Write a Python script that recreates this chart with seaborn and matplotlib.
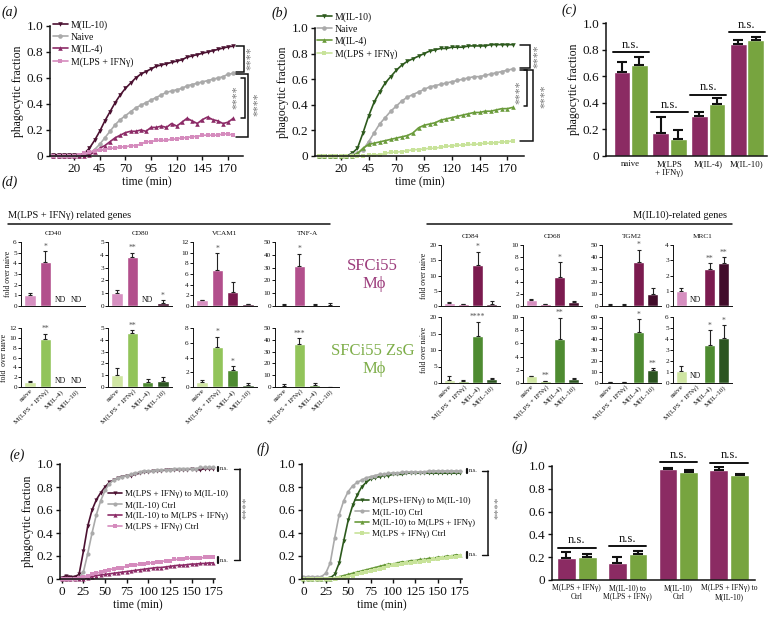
import numpy as np
import pandas as pd
import matplotlib
matplotlib.use("Agg")
import matplotlib.pyplot as plt
from matplotlib.lines import Line2D
import seaborn as sns

sns.set_theme(style="ticks")
plt.rcParams["font.family"] = ["Liberation Serif", "DejaVu Serif"]
for k in ("text.color", "axes.edgecolor", "xtick.color", "ytick.color", "axes.labelcolor"):
    plt.rcParams[k] = "#111111"

W, H = 768, 619
nan = np.nan

# ── data: time courses ───────────────────────────────────────
time_min = [0, 5, 10, 15, 20, 25, 30, 35, 40, 45, 50, 55, 60, 65, 70, 75, 80, 85,
            90, 95, 100, 105, 110, 115, 120, 125, 130, 135, 140, 145, 150, 155,
            160, 165, 170, 175]

ab_names = ["M(IL-10)", "Naive", "M(IL-4)", "M(LPS + IFNγ)"]
a_il10 = [0.01, 0.01, 0.01, 0.01, 0.01, 0.01, 0.02, 0.06, 0.12, 0.19, 0.27, 0.34, 0.41, 0.47, 0.52, 0.56, 0.60, 0.63,
          0.65, 0.67, 0.69, 0.70, 0.71, 0.72, 0.73, 0.74, 0.76, 0.77, 0.78, 0.79, 0.80, 0.81, 0.82, 0.83, 0.84, 0.845]
a_naive = [0, 0, 0, 0, 0, 0, 0.01, 0.02, 0.05, 0.09, 0.14, 0.19, 0.24, 0.28, 0.31, 0.34, 0.37, 0.39,
           0.41, 0.43, 0.45, 0.47, 0.49, 0.50, 0.51, 0.52, 0.54, 0.55, 0.56, 0.57, 0.58, 0.59, 0.60, 0.61, 0.63, 0.635]
a_il4 = [0, 0, 0, 0, 0, 0, 0, 0.01, 0.03, 0.06, 0.08, 0.11, 0.14, 0.16, 0.18, 0.19, 0.19, 0.20,
         0.19, 0.22, 0.22, 0.23, 0.22, 0.25, 0.23, 0.26, 0.29, 0.27, 0.25, 0.28, 0.30, 0.28, 0.27, 0.25, 0.26, 0.29]
a_lps = [0, 0, 0, 0, 0, 0.01, 0.02, 0.03, 0.04, 0.05, 0.05, 0.06, 0.06, 0.07, 0.07, 0.08, 0.08, 0.09,
         0.11, 0.11, 0.12, 0.12, 0.12, 0.13, 0.13, 0.14, 0.14, 0.15, 0.15, 0.16, 0.16, 0.16, 0.16, 0.17, 0.17, 0.16]

b_il10 = [0, 0, 0, 0, 0, 0, 0.02, 0.06, 0.18, 0.31, 0.42, 0.50, 0.57, 0.62, 0.67, 0.71, 0.74, 0.76,
          0.78, 0.80, 0.82, 0.83, 0.84, 0.84, 0.85, 0.85, 0.85, 0.86, 0.86, 0.86, 0.86, 0.87, 0.87, 0.87, 0.87, 0.87]
b_naive = [0, 0, 0, 0, 0, 0, 0.01, 0.02, 0.05, 0.11, 0.18, 0.25, 0.30, 0.35, 0.39, 0.43, 0.46, 0.48,
           0.50, 0.52, 0.54, 0.55, 0.56, 0.57, 0.58, 0.59, 0.60, 0.61, 0.62, 0.62, 0.63, 0.64, 0.65, 0.66, 0.67, 0.68]
b_il4 = [0, 0, 0, 0, 0, 0, 0, 0.02, 0.06, 0.09, 0.10, 0.11, 0.12, 0.13, 0.14, 0.15, 0.16, 0.18,
         0.22, 0.24, 0.25, 0.26, 0.28, 0.29, 0.30, 0.31, 0.32, 0.33, 0.34, 0.34, 0.35, 0.35, 0.36, 0.37, 0.37, 0.38]
b_lps = [0, 0, 0, 0, 0, 0, 0, 0, 0, 0.005, 0.01, 0.01, 0.02, 0.03, 0.03, 0.035, 0.04, 0.05,
         0.05, 0.055, 0.06, 0.06, 0.07, 0.075, 0.08, 0.085, 0.085, 0.09, 0.09, 0.095, 0.10, 0.10, 0.105, 0.11, 0.11, 0.12]

e_names = ["M(LPS + IFNγ) to M(IL-10)", "M(IL-10) Ctrl", "M(IL-10) to M(LPS + IFNγ)", "M(LPS + IFNγ) Ctrl"]
f_names = ["M(LPS+IFNγ) to M(IL-10)", "M(IL-10) Ctrl", "M(IL-10) to M(LPS + IFNγ)", "M(LPS + IFNγ) Ctrl"]
e_lps2il10 = [0.01, 0.03, 0.02, 0.02, 0.04, 0.24, 0.46, 0.60, 0.69, 0.75, 0.80, 0.84, 0.86, 0.88, 0.89, 0.90, 0.90, 0.91,
              0.92, 0.93, 0.93, 0.94, 0.94, 0.94, 0.95, 0.95, 0.95, 0.95, 0.95, 0.95, 0.96, 0.95, 0.95, 0.96, 0.96, 0.96]
e_il10ctrl = [0, 0, 0, 0, 0.01, 0.06, 0.22, 0.40, 0.56, 0.68, 0.77, 0.83, 0.86, 0.88, 0.89, 0.90, 0.91, 0.92,
              0.93, 0.94, 0.94, 0.94, 0.95, 0.95, 0.95, 0.95, 0.96, 0.96, 0.96, 0.96, 0.96, 0.96, 0.97, 0.97, 0.97, 0.97]
e_il102lps = [0, 0, 0, 0, 0, 0, 0.01, 0.02, 0.03, 0.035, 0.04, 0.045, 0.05, 0.055, 0.06, 0.065, 0.07, 0.075,
              0.08, 0.085, 0.09, 0.095, 0.10, 0.10, 0.105, 0.11, 0.115, 0.12, 0.12, 0.125, 0.13, 0.13, 0.135, 0.135, 0.14, 0.14]
e_lpsctrl = [0, 0, 0, 0, 0.01, 0.02, 0.03, 0.04, 0.05, 0.06, 0.07, 0.08, 0.09, 0.10, 0.10, 0.11, 0.12, 0.12,
             0.13, 0.13, 0.14, 0.14, 0.15, 0.15, 0.16, 0.16, 0.17, 0.17, 0.17, 0.18, 0.18, 0.18, 0.18, 0.19, 0.19, 0.19]

f_lps2il10 = [0, 0, 0, 0, 0, 0, 0.01, 0.04, 0.14, 0.33, 0.51, 0.64, 0.73, 0.80, 0.84, 0.87, 0.88, 0.89,
              0.90, 0.90, 0.91, 0.91, 0.91, 0.92, 0.92, 0.92, 0.92, 0.92, 0.92, 0.92, 0.92, 0.92, 0.92, 0.92, 0.92, 0.92]
f_il10ctrl = [0.02, 0.02, 0.02, 0.02, 0.02, 0.05, 0.14, 0.36, 0.56, 0.68, 0.76, 0.81, 0.84, 0.86, 0.88, 0.89, 0.90, 0.91,
              0.91, 0.92, 0.92, 0.92, 0.93, 0.93, 0.93, 0.93, 0.93, 0.93, 0.94, 0.94, 0.94, 0.94, 0.94, 0.94, 0.94, 0.94]
f_il102lps = [0, 0, 0, 0, 0, 0, 0, 0.01, 0.02, 0.03, 0.04, 0.05, 0.06, 0.07, 0.08, 0.09, 0.10, 0.11,
              0.12, 0.13, 0.13, 0.14, 0.15, 0.15, 0.16, 0.16, 0.17, 0.17, 0.18, 0.18, 0.19, 0.19, 0.20, 0.20, 0.21, 0.21]
f_lpsctrl = [0, 0, 0, 0, 0, 0, 0, 0, 0.01, 0.01, 0.02, 0.03, 0.04, 0.05, 0.06, 0.07, 0.08, 0.09,
             0.10, 0.11, 0.12, 0.12, 0.13, 0.14, 0.14, 0.15, 0.15, 0.16, 0.16, 0.17, 0.17, 0.18, 0.18, 0.19, 0.19, 0.20]

# ── data: bar panels (c) and (g) ─────────────────────────────
c_groups = ["naive", "M(LPS\n+ IFNγ)", "M(IL-4)", "M(IL-10)"]
c_mag = [0.63, 0.17, 0.30, 0.845]
c_mag_err = [0.08, 0.125, 0.033, 0.03]
c_grn = [0.685, 0.125, 0.39, 0.87]
c_grn_err = [0.06, 0.07, 0.044, 0.025]
c_ns_y = [0.78, 0.33, 0.46, 0.93]

g_groups = ["M(LPS + IFNγ)\nCtrl", "M(IL-10) to\nM(LPS + IFNγ)", "M(IL-10)\nCtrl", "M(LPS + IFNγ) to\nM(IL-10)"]
g_mag = [0.19, 0.152, 0.974, 0.962]
g_mag_err = [0.053, 0.047, 0.011, 0.032]
g_grn = [0.20, 0.228, 0.95, 0.921]
g_grn_err = [0.028, 0.029, 0.018, 0.011]
g_ns_y = [0.283, 0.298, 1.032, 1.03]

# ── data: gene expression panels (d) ─────────────────────────
conds = ["naive", "M(LPS + IFNγ)", "M(IL-4)", "M(IL-10)"]
m1_genes = ["CD40", "CD80", "VCAM1", "TNF-A"]
m1_mag_val = [[1.05, 4.1, nan, nan], [1.05, 3.8, nan, 0.2], [1.05, 6.8, 2.7, 0.3], [0.6, 31.5, 0.9, 1.1]]
m1_mag_err = [[0.15, 1.05, 0, 0], [0.2, 0.35, 0, 0.25], [0.15, 3.1, 1.8, 0.15], [0.9, 9.5, 1.0, 0.9]]
m1_mag_sig = [["", "*", "", ""], ["", "**", "", "*"], ["", "*", "", ""], ["", "*", "", ""]]
m1_grn_val = [[1.05, 9.7, nan, nan], [1.0, 4.6, 0.4, 0.5], [0.65, 5.4, 2.35, 0.25], [0.8, 36.5, 1.5, 0.3]]
m1_grn_err = [[0.2, 1.1, 0, 0], [0.65, 0.2, 0.3, 0.35], [0.35, 1.4, 0.5, 0.25], [1.7, 5.0, 2.0, 0.1]]
m1_grn_sig = [["", "**", "", ""], ["", "**", "", ""], ["", "*", "*", ""], ["", "***", "", ""]]
m1_mag_ymax = [6, 5, 12, 50]
m1_mag_step = [1, 1, 2, 10]
m1_grn_ymax = [12, 5, 8, 50]
m1_grn_step = [2, 1, 2, 10]

m2_genes = ["CD84", "CD68", "TGM2", "MRC1"]
m2_mag_val = [[0.9, 0.6, 13.5, 0.8], [1.0, 0.25, 4.7, 0.6], [0.8, 0.8, 36, 10], [1.0, nan, 2.4, 2.8]]
m2_mag_err = [[0.3, 0.2, 4.3, 0.7], [0.1, 0.1, 2.5, 0.15], [0.5, 0.5, 10, 4.5], [0.15, 0, 0.4, 0.4]]
m2_mag_sig = [["", "", "*", ""], ["", "", "*", ""], ["", "", "*", ""], ["", "", "**", "**"]]
m2_grn_val = [[1.0, 0.7, 14.2, 1.1], [1.0, 0.25, 6.7, 0.6], [0.8, 0.8, 46, 12], [1.05, nan, 3.5, 4.05]]
m2_grn_err = [[1.2, 0.2, 4.4, 0.5], [0.1, 0.1, 3.2, 0.1], [0.4, 0.4, 12, 1.5], [0.5, 0, 1.3, 1.2]]
m2_grn_sig = [["", "", "****", ""], ["", "**", "**", ""], ["", "", "*", "**"], ["", "", "*", "*"]]
m2_mag_ymax = [20, 10, 50, 4]
m2_mag_step = [5, 2, 10, 1]
m2_grn_ymax = [20, 10, 60, 6]
m2_grn_step = [5, 2, 10, 1]

# ── colours ──────────────────────────────────────────────────
MAG_BAR, GRN_BAR = "#8b2b63", "#77a43f"
GRAY = "#aaaaaa"
mag_lines = ["#4b1131", GRAY, "#8c2b67", "#d58bbd"]
grn_lines = ["#2d5a1d", GRAY, "#6a9b3b", "#c8e39a"]
mag_cond = ["#d68fc0", "#b24f8c", "#7b1b4f", "#420d2b"]
grn_cond = ["#cfe5a2", "#92c45a", "#4e8b31", "#2c5521"]
MARKERS = ["v", "o", "^", "s"]
frac_ticks = [0, 0.2, 0.4, 0.6, 0.8, 1.0]
frac_labels = ["0", "0.2", "0.4", "0.6", "0.8", "1.0"]

fig = plt.figure(figsize=(W / 100, H / 100), dpi=100)


def px_axes(l, t, r, b):
    return fig.add_axes([l / W, 1 - b / H, (r - l) / W, (b - t) / H])


def ftext(x, y, s, **kw):
    fig.text(x / W, 1 - y / H, s, **kw)


def curves(ax, series, names, colors, msize=3.3):
    df = pd.DataFrame({"time": time_min * len(series),
                       "frac": sum(series, []),
                       "group": np.repeat(names, len(time_min))})
    sns.lineplot(data=df, x="time", y="frac", hue="group", style="group",
                 hue_order=names, style_order=names, palette=colors,
                 markers=MARKERS, dashes=False, markersize=msize, markeredgewidth=0,
                 linewidth=1.2, errorbar=None, legend=False, ax=ax, clip_on=False)
    return ax.get_lines()[:len(names)]


def style_frac_ax(ax, xlim=None, xticks=None):
    if xlim is not None:
        ax.set_xlim(*xlim)
    if xticks is not None:
        ax.set_xticks(xticks)
    ax.set_ylim(0, 1.0)
    ax.set_yticks(frac_ticks)
    ax.set_yticklabels(frac_labels)
    ax.tick_params(labelsize=9.5, length=3, width=1.0, pad=2)
    sns.despine(ax=ax)
    for s in ("left", "bottom"):
        ax.spines[s].set_linewidth(1.1)


def legend(ax, handles, names, x, y, size):
    ax.legend(handles, names, loc="upper left", bbox_to_anchor=(x / W, 1 - y / H),
              bbox_transform=fig.transFigure, frameon=False, fontsize=size,
              handlelength=1.5, handletextpad=0.35, labelspacing=0.3,
              borderpad=0, borderaxespad=0)


def bracket(ax, x0, x1, y0, y1, lw=1.1):
    ax.plot([x0, x1, x1, x0], [y0, y0, y1, y1], color="#111111", lw=lw,
            clip_on=False, solid_joinstyle="miter")


def vstars(ax, x, y, s="****", size=8.5):
    ax.text(x, y, s, rotation=90, ha="center", va="center", fontsize=size,
            color="#777777", clip_on=False)


def ns_side(ax, xv, xt, xl, xr, y, dy):
    ax.plot([xv, xv], [y - dy, y + dy], color="#111111", lw=1.6, clip_on=False)
    ax.text(xt, y, "n.s.", fontsize=4.5, va="center", ha="left", clip_on=False)
    ax.plot([xl, xr], [y, y], color="#111111", lw=1.0, clip_on=False)


def paired_bars(ax, groups, mag, mag_err, grn, grn_err, width, gap, capsize, ns_y, ns_hw):
    df = pd.DataFrame({"group": groups * 2, "value": mag + grn,
                       "cell": ["SFCi55"] * len(groups) + ["SFCi55 ZsG"] * len(groups)})
    sns.barplot(data=df, x="group", y="value", hue="cell", palette=[MAG_BAR, GRN_BAR],
                width=width, gap=gap, errorbar=None, legend=False, saturation=1, ax=ax)
    conts = list(ax.containers[:2])
    for cont, errs in zip(conts, (mag_err, grn_err)):
        for bar, e in zip(cont, errs):
            xc = bar.get_x() + bar.get_width() / 2
            ax.errorbar(xc, bar.get_height(), yerr=[[0], [e]], fmt="none", ecolor="#111111",
                        elinewidth=1.5, capsize=capsize, capthick=1.5)
    for i, y in enumerate(ns_y):
        ax.plot([i - ns_hw, i + ns_hw], [y, y], color="#111111", lw=1.4, clip_on=False)
        ax.text(i, y + 0.012, "n.s.", ha="center", va="bottom", fontsize=9, clip_on=False)
    ax.set_xlabel("")


def gene_panel(ax, vals, errs, sigs, colors, ymax, step, title=None, ylabel=None, xlabels=False):
    df = pd.DataFrame({"cond": conds, "val": vals}).dropna()
    sns.barplot(data=df, x="cond", y="val", hue="cond", order=conds, hue_order=conds,
                palette=dict(zip(conds, colors)), width=0.75, errorbar=None,
                legend=False, saturation=1, ax=ax)
    for i, (v, e, s) in enumerate(zip(vals, errs, sigs)):
        if np.isnan(v):
            ax.text(i, 0.1 * ymax, "ND", ha="center", va="center", fontsize=5.5)
            continue
        ax.errorbar(i, v, yerr=[[0], [e]], fmt="none", ecolor="#222222",
                    elinewidth=0.8, capsize=1.6, capthick=0.8)
        if s:
            ax.text(i, v + e + 0.01 * ymax, s, ha="center", va="bottom", fontsize=5.5,
                    color="#555555", clip_on=False)
    ax.set_xlim(-0.6, 3.6)
    ax.set_ylim(0, ymax)
    yt = list(range(0, ymax + 1, step))
    ax.set_yticks(yt)
    ax.set_yticklabels([str(t) for t in yt])
    ax.tick_params(axis="y", labelsize=5.2, length=2, width=0.7, pad=1)
    ax.tick_params(axis="x", length=0, pad=1)
    ax.set_xticks(range(4))
    if xlabels:
        ax.set_xticklabels(conds, rotation=45, ha="right", rotation_mode="anchor", fontsize=5.2)
    else:
        ax.set_xticklabels([])
    ax.set_xlabel("")
    ax.set_ylabel(ylabel or "", fontsize=5.5, labelpad=1)
    if title:
        ax.set_title(title, fontsize=5.2, pad=5)
    sns.despine(ax=ax)
    for sp in ("left", "bottom"):
        ax.spines[sp].set_linewidth(0.7)


# ── (a) ──────────────────────────────────────────────────────
ax = px_axes(50, 26, 243, 156)
h = curves(ax, [a_il10, a_naive, a_il4, a_lps], ab_names, mag_lines)
style_frac_ax(ax, (-3.4, 184.5), [20, 45, 70, 95, 120, 145, 170])
ax.set_xlabel("time (min)", fontsize=8.5, labelpad=1)
ax.set_ylabel("phagocytic fraction", fontsize=8.5, labelpad=2)
legend(ax, h, ab_names, 53, 20, 7)
bracket(ax, 178, 185.5, 0.85, 0.65)
vstars(ax, 192.5, 0.75)
bracket(ax, 182.5, 186.5, 0.60, 0.29)
vstars(ax, 178.8, 0.45)
bracket(ax, 178, 189.5, 0.63, 0.15)
vstars(ax, 198.5, 0.40)

# ── (b) ──────────────────────────────────────────────────────
ax = px_axes(315, 28, 524, 156)
h = curves(ax, [b_il10, b_naive, b_il4, b_lps], ab_names, grn_lines)
style_frac_ax(ax, (-3.2, 185), [20, 45, 70, 95, 120, 145, 170])
ax.set_xlabel("time (min)", fontsize=8.5, labelpad=1)
ax.set_ylabel("phagocytic fraction", fontsize=8.5, labelpad=2)
legend(ax, h, ab_names, 317, 12, 7)
bracket(ax, 181.5, 190.5, 0.87, 0.69)
vstars(ax, 197, 0.78)
bracket(ax, 185, 188, 0.67, 0.39)
vstars(ax, 181.5, 0.50)
bracket(ax, 181.5, 193, 0.67, 0.12)
vstars(ax, 204, 0.47)

# ── (c) ──────────────────────────────────────────────────────
ax = px_axes(606, 23, 767, 156)
paired_bars(ax, c_groups, c_mag, c_mag_err, c_grn, c_grn_err, 0.9, 0.04, 3.5, c_ns_y, 0.47)
style_frac_ax(ax)
ax.set_xlim(-0.64, 3.52)
ax.tick_params(axis="x", length=0, labelsize=6.3, pad=3)
ax.set_ylabel("phagocytic fraction", fontsize=8.5, labelpad=2)

# ── (d) ──────────────────────────────────────────────────────
m1_left = [21, 108, 193, 275]
m2_left = [441, 523, 602, 673]
for i in range(4):
    ax = px_axes(m1_left[i], 242, m1_left[i] + 64, 306)
    gene_panel(ax, m1_mag_val[i], m1_mag_err[i], m1_mag_sig[i], mag_cond, m1_mag_ymax[i],
               m1_mag_step[i], title=m1_genes[i], ylabel="fold over naive" if i == 0 else None)
    ax = px_axes(m1_left[i], 328, m1_left[i] + 64, 387)
    gene_panel(ax, m1_grn_val[i], m1_grn_err[i], m1_grn_sig[i], grn_cond, m1_grn_ymax[i],
               m1_grn_step[i], ylabel="fold  over naive" if i == 0 else None, xlabels=True)
    ax = px_axes(m2_left[i], 245, m2_left[i] + 59, 306)
    gene_panel(ax, m2_mag_val[i], m2_mag_err[i], m2_mag_sig[i], mag_cond, m2_mag_ymax[i],
               m2_mag_step[i], title=m2_genes[i], ylabel="fold over naive" if i == 0 else None)
    ax = px_axes(m2_left[i], 317, m2_left[i] + 59, 383)
    gene_panel(ax, m2_grn_val[i], m2_grn_err[i], m2_grn_sig[i], grn_cond, m2_grn_ymax[i],
               m2_grn_step[i], ylabel="fold over naive" if i == 0 else None, xlabels=True)

ftext(8, 215, "M(LPS + IFNγ) related genes", fontsize=7.5, va="center", ha="left")
ftext(727, 215, "M(IL10)-related genes", fontsize=7.5, va="center", ha="right")
for x0, x1 in ((8, 330), (427, 732)):
    fig.add_artist(Line2D([x0 / W, x1 / W], [1 - 224 / H] * 2, transform=fig.transFigure,
                          color="#111111", lw=1.1))
ftext(372, 266, "SFCi55", fontsize=12, color="#9c3d7c", ha="center", va="center")
ftext(374, 284, "Mϕ", fontsize=12, color="#9c3d7c", ha="center", va="center")
ftext(373, 351, "SFCi55 ZsG", fontsize=12, color="#7eae4a", ha="center", va="center")
ftext(374, 369, "Mϕ", fontsize=12, color="#7eae4a", ha="center", va="center")

# ── (e) ──────────────────────────────────────────────────────
ax = px_axes(60, 464, 215, 579)
h = curves(ax, [e_lps2il10, e_il10ctrl, e_il102lps, e_lpsctrl], e_names, mag_lines, msize=3)
style_frac_ax(ax, (-2, 177), [0, 25, 50, 75, 100, 125, 150, 175])
ax.set_xlabel("time (min)", fontsize=8.5, labelpad=1)
ax.set_ylabel("phagocytic fraction", fontsize=8.5, labelpad=2)
legend(ax, h, e_names, 108, 490, 6.5)
ns_side(ax, 180, 182.5, 199, 206, 0.96, 0.018)
ns_side(ax, 180, 182.5, 199, 206, 0.165, 0.025)
ax.plot([206, 206], [0.96, 0.165], color="#111111", lw=1.1, clip_on=False)
vstars(ax, 213, 0.62, size=8)

# ── (f) ──────────────────────────────────────────────────────
ax = px_axes(302, 464, 462, 579)
h = curves(ax, [f_lps2il10, f_il10ctrl, f_il102lps, f_lpsctrl], f_names, grn_lines, msize=3)
style_frac_ax(ax, (-1.5, 177), [0, 25, 50, 75, 100, 125, 150, 175])
ax.set_xlabel("time (min)", fontsize=8.5, labelpad=1)
ax.set_ylabel("")
legend(ax, h, f_names, 355, 497, 6.5)
ns_side(ax, 182.4, 185, 199, 206, 0.94, 0.018)
ns_side(ax, 182.4, 185, 199, 206, 0.21, 0.025)
ax.plot([206, 206], [0.94, 0.21], color="#111111", lw=1.1, clip_on=False)
vstars(ax, 217, 0.62, size=8)

# ── (g) ──────────────────────────────────────────────────────
ax = px_axes(552, 466, 755, 580)
paired_bars(ax, g_groups, g_mag, g_mag_err, g_grn, g_grn_err, 0.82, 0.1, 3.5, g_ns_y, 0.37)
style_frac_ax(ax)
ax.set_xlim(-0.49, 3.51)
ax.tick_params(axis="x", length=0, labelsize=5.5, pad=3)
ax.set_ylabel("")

# ── panel letters ────────────────────────────────────────────
for lab, x, y in (("(a)", 2, 12), ("(b)", 272, 13), ("(c)", 562, 10), ("(d)", 2, 182),
                  ("(e)", 10, 455), ("(f)", 257, 449), ("(g)", 512, 447)):
    ftext(x, y, lab, fontsize=10, style="italic", ha="left", va="center")

fig.savefig("out.png", dpi=100)
